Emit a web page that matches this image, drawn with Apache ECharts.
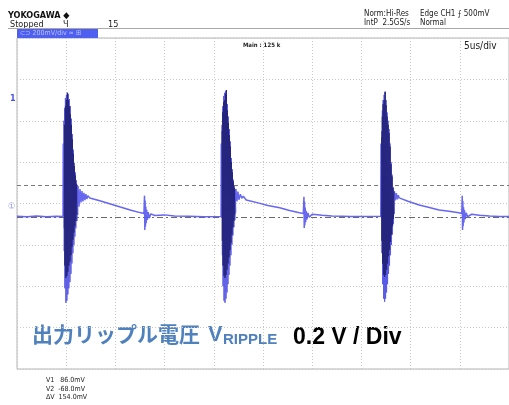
<!DOCTYPE html>
<html>
<head>
<meta charset="utf-8">
<script src="https://cdn.jsdelivr.net/npm/echarts@6/dist/echarts.min.js"></script>
<style>
  html, body { margin: 0; padding: 0; background: #fff; }
  #chart { width: 509px; height: 405px; }
</style>
</head>
<body>
<div id="chart"></div>
<script>
// time in us, voltage in mV (5 us/div, 200 mV/div)
const xTicks = [0, 5, 10, 15, 20, 25, 30, 35, 40, 45, 50]
const yTicks = [-800, -600, -400, -200, 0, 200, 400, 600, 800]

// cursor levels
const cursorV1 = 86
const cursorV2 = -68

// light trace: baseline, leading edges, decaying tails and the small spikes
const trace = [
  [0, -62], [1, -64], [2, -61], [3, -64], [4, -62], [4.68, -63], [4.70, 290], [4.72, -60],
  [6.2, 85], [6.3, -15], [6.4, 70], [6.5, 5], [6.6, 60], [6.7, 10], [6.8, 52], [6.9, 16],
  [7.0, 45], [7.1, 22], [7.2, 38], [7.4, 27], [8.5, 12], [9.5, -2], [10.5, -17], [11.5, -31],
  [12.5, -44], [12.9, -48], [12.96, 38], [12.99, -128], [13.02, 15], [13.05, -112], [13.09, -15],
  [13.13, -95], [13.18, -30], [13.25, -80], [13.33, -42], [13.45, -70], [13.6, -50], [14, -58],
  [15, -55], [16, -60], [17.5, -62], [19, -64], [20.74, -63],
  [20.76, 290], [20.78, -60],
  [22.25, 70], [22.35, 10], [22.45, 58], [22.55, 18], [22.7, 45], [22.85, 25], [23.0, 35],
  [23.3, 17], [24.5, 3], [25.5, -10], [26.7, -21], [27.7, -34], [28.7, -45], [29.1, -48],
  [29.16, 33], [29.19, -118], [29.22, 10], [29.25, -105], [29.29, -20], [29.33, -90], [29.38, -35],
  [29.45, -78], [29.55, -45], [29.7, -66], [30, -52], [31, -57], [32, -60], [34, -63], [36.97, -62],
  [36.99, 290], [37.01, -60],
  [38.35, 60], [38.45, 15], [38.55, 50], [38.65, 20], [38.75, 40], [38.84, 27], [39.8, 10],
  [40.87, -7], [41.9, -19], [42.9, -31], [43.9, -38], [44.9, -45], [45.2, -48], [45.25, 37],
  [45.28, -128], [45.31, 12], [45.34, -110], [45.38, -18], [45.42, -92], [45.47, -32], [45.55, -75],
  [45.65, -45], [45.8, -64], [46.2, -52], [47, -57], [48, -61], [49, -63], [50, -63]
]

// ringing bursts: outer (light) envelope strokes
const ring1 = [
  [4.74, -60], [4.77, 400], [4.80, -230], [4.84, 460], [4.87, -410], [4.92, 510], [4.97, -480],
  [5.02, 525], [5.07, -470], [5.12, 535], [5.17, -440], [5.22, 530], [5.27, -410], [5.32, 505],
  [5.38, -380], [5.43, 470], [5.48, -340], [5.53, 410], [5.58, -290], [5.63, 335], [5.68, -240],
  [5.73, 260], [5.78, -200], [5.83, 195], [5.88, -160], [5.93, 150], [5.98, -120], [6.04, 112],
  [6.09, -85], [6.14, 90], [6.19, -55]
]
const ring2 = [
  [20.80, -70], [20.84, 380], [20.87, -250], [20.91, 470], [20.94, -400], [20.99, 520], [21.04, -470],
  [21.09, 535], [21.14, -480], [21.19, 545], [21.24, -460], [21.29, 548], [21.34, -430], [21.39, 480],
  [21.44, -390], [21.49, 420], [21.54, -345], [21.59, 360], [21.64, -300], [21.69, 300], [21.74, -250],
  [21.79, 220], [21.84, -200], [21.89, 165], [21.94, -155], [21.99, 115], [22.04, -115], [22.09, 85],
  [22.14, -80], [22.19, 65], [22.24, -45]
]
const ring3 = [
  [37.02, -70], [37.06, 350], [37.09, -240], [37.13, 450], [37.16, -390], [37.21, 500], [37.26, -460],
  [37.31, 525], [37.36, -475], [37.41, 540], [37.46, -460], [37.51, 500], [37.56, -430], [37.61, 440],
  [37.66, -390], [37.71, 400], [37.76, -340], [37.81, 360], [37.86, -300], [37.91, 290], [37.96, -250],
  [38.01, 200], [38.06, -200], [38.11, 140], [38.16, -150], [38.21, 80], [38.26, -100], [38.31, 60],
  [38.36, -50]
]

// ringing bursts: dense dark core
const core1 = [
  [4.80, -120], [4.84, 380], [4.87, -300], [4.92, 470], [4.97, -360], [5.02, 500], [5.07, -350],
  [5.12, 535], [5.17, -330], [5.22, 500], [5.27, -300], [5.32, 470], [5.38, -280], [5.43, 430],
  [5.48, -250], [5.53, 380], [5.58, -210], [5.63, 310], [5.68, -175], [5.73, 240], [5.78, -140],
  [5.83, 180], [5.88, -110], [5.93, 135], [5.98, -85], [6.04, 95], [6.09, -55]
]
const core2 = [
  [20.84, 350], [20.87, -180], [20.91, 440], [20.94, -300], [20.99, 490], [21.04, -350], [21.09, 500],
  [21.14, -360], [21.19, 530], [21.24, -345], [21.29, 548], [21.34, -320], [21.39, 450], [21.44, -290],
  [21.49, 390], [21.54, -260], [21.59, 330], [21.64, -225], [21.69, 275], [21.74, -190], [21.79, 200],
  [21.84, -150], [21.89, 150], [21.94, -115], [21.99, 105], [22.04, -85], [22.09, 75], [22.14, -55]
]
const core3 = [
  [37.06, 320], [37.09, -180], [37.13, 420], [37.16, -290], [37.21, 480], [37.26, -345], [37.31, 500],
  [37.36, -355], [37.41, 540], [37.46, -345], [37.51, 475], [37.56, -320], [37.61, 420], [37.66, -290],
  [37.71, 380], [37.76, -255], [37.81, 340], [37.86, -225], [37.91, 275], [37.96, -185], [38.01, 190],
  [38.06, -150], [38.11, 130], [38.16, -110], [38.21, 75], [38.26, -75], [38.31, 55]
]

const readout = ['V1   86.0mV', 'V2  -68.0mV', '\u0394V  154.0mV']

const scopeFont = '"Liberation Sans Narrow", "DejaVu Sans Condensed", sans-serif'

const chart = echarts.init(document.getElementById('chart'), null, { renderer: 'canvas' })

function burst(data, color, z) {
  return {
    type: 'line',
    data: data,
    symbol: 'none',
    silent: true,
    z: z,
    lineStyle: { color: color, width: 1 },
  }
}

function txt(x, y, text, size, color, extra) {
  return {
    type: 'text',
    x: x,
    y: y,
    silent: true,
    style: Object.assign({
      text: text,
      font: size + 'px ' + scopeFont,
      fill: color,
      textVerticalAlign: 'top',
    }, extra || {}),
  }
}

chart.setOption({
  animation: false,
  backgroundColor: '#fff',
  grid: {
    left: 17, top: 38, width: 495, height: 331,
    show: true, borderColor: '#b4b4b4', borderWidth: 1,
  },
  xAxis: {
    type: 'value',
    min: xTicks[0],
    max: xTicks[xTicks.length - 1],
    interval: xTicks[1] - xTicks[0],
    axisLine: { show: false },
    axisTick: { show: false },
    axisLabel: { show: false },
    splitLine: { lineStyle: { color: '#c8c8c8', type: [1, 2], width: 1 } },
  },
  yAxis: {
    type: 'value',
    min: yTicks[0],
    max: yTicks[yTicks.length - 1],
    interval: yTicks[1] - yTicks[0],
    axisLine: { show: false },
    axisTick: { show: false },
    axisLabel: { show: false },
    splitLine: { lineStyle: { color: '#c8c8c8', type: [1, 2], width: 1 } },
  },
  series: [
    {
      type: 'line',
      data: trace,
      symbol: 'none',
      silent: true,
      z: 3,
      lineStyle: { color: '#5656ee', width: 1.5, opacity: 0.9 },
      markLine: {
        silent: true,
        symbol: 'none',
        label: { show: false },
        z: 2,
        data: [
          { yAxis: cursorV1, lineStyle: { color: '#7a7a7a', type: [4, 3], width: 1.2 } },
          { yAxis: cursorV2, lineStyle: { color: '#6a6a6a', type: [6, 3, 2, 3], width: 1.2 } },
        ],
      },
    },
    burst(ring1, '#5a5ae6', 4),
    burst(ring2, '#5a5ae6', 4),
    burst(ring3, '#5a5ae6', 4),
    burst(core1, '#25257e', 5),
    burst(core2, '#25257e', 5),
    burst(core3, '#25257e', 5),
  ],
  graphic: [
    // header
    txt(8, 11, 'YOKOGAWA \u25C6', 9, '#111', { font: 'bold 9px ' + scopeFont }),
    txt(10, 20, 'Stopped', 9, '#222'),
    txt(63, 20, '\u0427', 9, '#222'),
    txt(108, 20, '15', 9, '#222'),
    txt(364, 10, 'Norm:Hi-Res', 8, '#222'),
    txt(364, 19, 'IntP  2.5GS/s', 8, '#222'),
    txt(420, 10, 'Edge CH1 \u2A0D 500mV', 8, '#222'),
    txt(420, 19, 'Normal', 8, '#222'),
    {
      type: 'line', silent: true,
      shape: { x1: 8, y1: 28.5, x2: 509, y2: 28.5 },
      style: { stroke: '#a8a8a8', lineWidth: 1 },
    },
    {
      type: 'rect', silent: true,
      shape: { x: 17, y: 29, width: 81, height: 9 },
      style: { fill: '#4f5ff0' },
    },
    txt(20, 29.5, '\u2282\u2283 200mV/div \u2243 \u229E', 7, '#b9c4ff'),
    txt(243, 42, 'Main : 125 k', 6, '#222', { font: 'bold 6px ' + scopeFont }),
    txt(464, 41, '5us/div', 10, '#222'),
    // channel markers
    txt(10, 94, '1', 9, '#4a55dd', { font: 'bold 9px ' + scopeFont }),
    txt(8, 202, '\u2460', 9, '#8a90f0'),
    // annotation
    txt(32, 324, '出力リップル電圧', 21, '#4f81bd',
      { font: 'bold 21px "Noto Sans CJK JP", sans-serif' }),
    txt(208, 324, 'V', 22, '#4f81bd', { font: 'bold 22px "Liberation Sans", sans-serif' }),
    txt(223, 332, 'RIPPLE', 15, '#4f81bd', { font: 'bold 15px "Liberation Sans", sans-serif' }),
    txt(293, 326, '0.2 V / Div', 23, '#000', { font: 'bold 23px "Liberation Sans", sans-serif' }),
    // cursor readout
    txt(46, 377, readout[0], 7, '#222'),
    txt(46, 385.5, readout[1], 7, '#222'),
    txt(46, 394, readout[2], 7, '#222'),
  ],
})
</script>
</body>
</html>
